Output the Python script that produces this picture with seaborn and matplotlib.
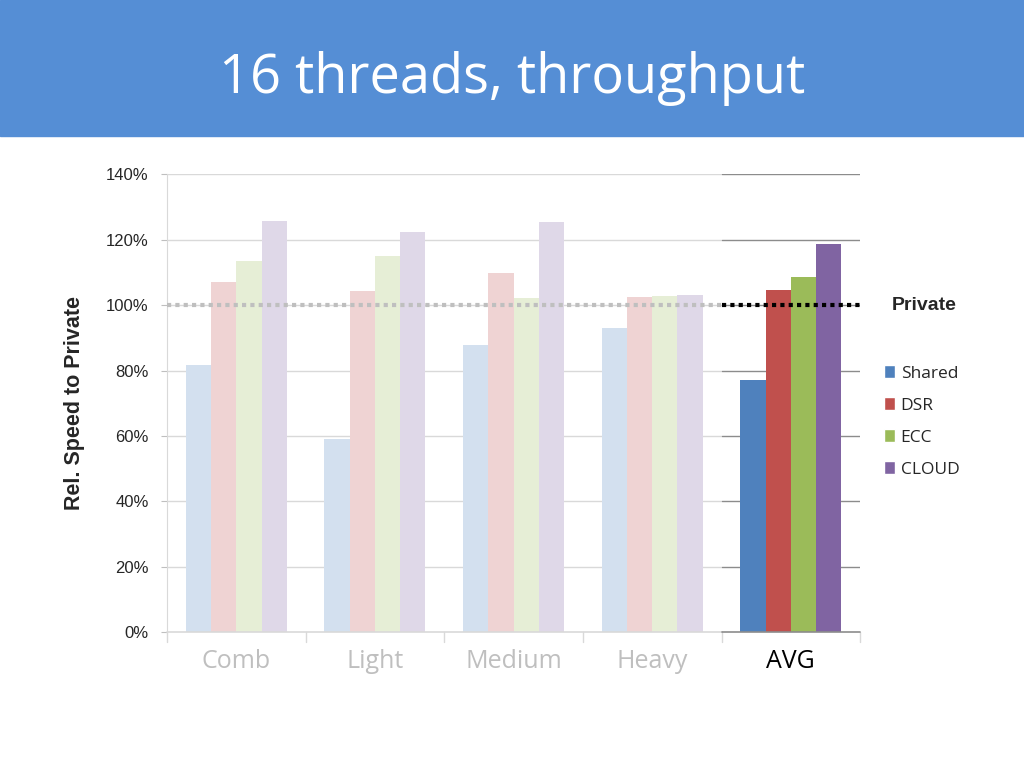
import matplotlib
matplotlib.use("Agg")
import matplotlib.pyplot as plt
import matplotlib.colors as mcolors
from matplotlib.patches import Rectangle, Patch
import pandas as pd
import seaborn as sns

categories = ["Comb", "Light", "Medium", "Heavy", "AVG"]
schemes = ["Shared", "DSR", "ECC", "CLOUD"]
shared = [81.6, 59.0, 87.7, 92.9, 77.0]
dsr = [107.0, 104.2, 109.7, 102.4, 104.5]
ecc = [113.4, 115.0, 102.1, 102.7, 108.5]
cloud = [125.6, 122.3, 125.3, 103.0, 118.6]
yticks = [0, 20, 40, 60, 80, 100, 120, 140]

colors = ["#4F81BD", "#C0504D", "#9BBB59", "#8064A2"]

df = pd.DataFrame({
    "Category": categories * 4,
    "Scheme": [s for s in schemes for _ in categories],
    "Value": shared + dsr + ecc + cloud,
})


def faded(c, a=0.25):
    r, g, b = mcolors.to_rgb(c)
    return (1 - a + a * r, 1 - a + a * g, 1 - a + a * b)


sns.set_style("white")
fig = plt.figure(figsize=(10.24, 7.68), dpi=100)

# slide header band
fig.patches.append(Rectangle((0, 0.823), 1, 0.177, transform=fig.transFigure,
                             color="#558ED5", zorder=0))
fig.text(0.5, 0.898, "16 threads, throughput", ha="center", va="center",
         color="white", fontsize=39, family="Open Sans")

ax = fig.add_axes([0.163, 0.177, 0.677, 0.596])
sns.barplot(data=df, x="Category", y="Value", hue="Scheme", palette=colors,
            width=0.73, saturation=1, legend=False, ax=ax, zorder=3)

for container, col in zip(ax.containers, colors):
    for i, bar in enumerate(container):
        bar.set_edgecolor("none")
        bar.set_facecolor(col if i == 4 else faded(col))

ax.set_ylim(0, 140)
ax.set_xlim(-0.5, 4.5)
ax.set_yticks(yticks)
ax.set_yticklabels([f"{t}%" for t in yticks], fontsize=12, family="Liberation Sans")

# gridlines: light in the faded area, darker in the AVG area
split = 0.8
for t in yticks[1:]:
    ax.axhline(t, xmin=0, xmax=split, color="#D9D9D9", lw=1, zorder=1)
    ax.axhline(t, xmin=split, xmax=1, color="#8C8C8C", lw=1, zorder=1)

# private reference line
ax.axhline(100, xmin=0, xmax=split, color="#BFBFBF", lw=3, ls=(0, (1, 1)), zorder=4)
ax.axhline(100, xmin=split, xmax=1, color="black", lw=3, ls=(0, (1, 1)), zorder=4)
ax.text(1.093, 100, "Private", transform=ax.get_yaxis_transform(), ha="center",
        va="center", fontsize=14, fontweight="bold", family="Liberation Sans")

for s in ["top", "right"]:
    ax.spines[s].set_visible(False)
ax.spines["left"].set_color("#D9D9D9")
ax.spines["bottom"].set_visible(False)
ax.axhline(0, xmin=0, xmax=split, color="#D9D9D9", lw=1.2, zorder=5, clip_on=False)
ax.axhline(0, xmin=split, xmax=1, color="#8C8C8C", lw=1.2, zorder=5, clip_on=False)

ax.tick_params(axis="y", left=True, length=4, color="#BFBFBF", pad=9)
ax.set_xticks(range(5))
ax.set_xticklabels(categories, fontsize=18, family="Open Sans")
for lbl in ax.get_xticklabels():
    lbl.set_color("black" if lbl.get_text() == "AVG" else "#BFBFBF")
ax.tick_params(axis="x", bottom=False, pad=9)
for b in [-0.5, 0.5, 1.5, 2.5, 3.5, 4.5]:
    ax.plot([b, b], [0, -3], color="#D9D9D9", lw=1, clip_on=False)

ax.set_xlabel("")
ax.set_ylabel("Rel. Speed to Private", fontsize=15.5, fontweight="bold",
              family="Liberation Sans", labelpad=15)

handles = [Patch(facecolor=c, label=s) for c, s in zip(colors, schemes)]
ax.legend(handles=handles, loc="center left", bbox_to_anchor=(1.012, 0.46),
          frameon=False, handlelength=0.65, handleheight=0.75, handletextpad=0.3,
          labelspacing=0.9, prop={"family": "Open Sans", "size": 12.5})

fig.savefig("out.png", dpi=100)
